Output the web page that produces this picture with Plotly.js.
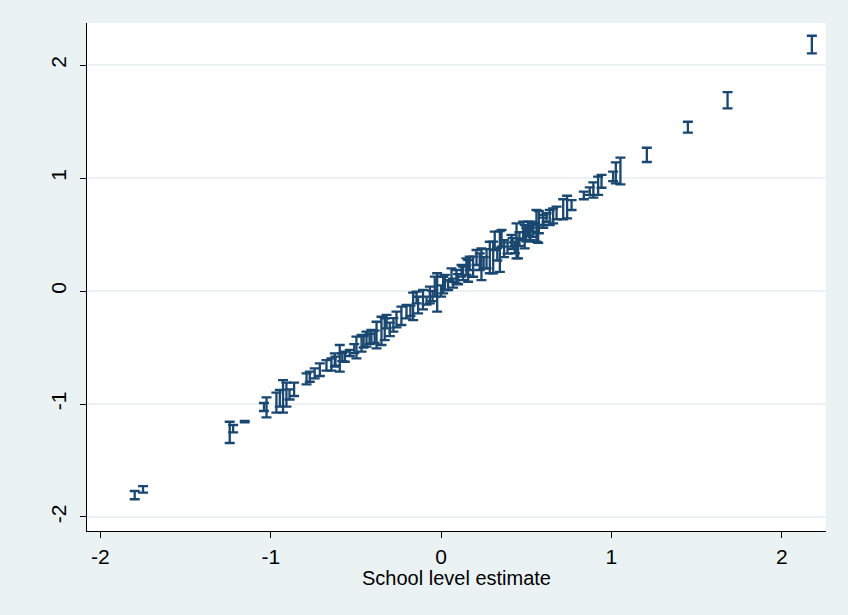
<!DOCTYPE html>
<html>
<head>
<meta charset="utf-8">
<script src="https://cdn.plot.ly/plotly-3.0.1.min.js"></script>
<style>html,body{margin:0;padding:0;background:#EAF2F3;}#chart{width:848px;height:615px;}</style>
</head>
<body>
<div id="chart"></div>
<script>
// School level estimate (x) and lower / upper bounds of the interval (y)
const schoolEstimate = [
  -1.799, -1.750, -1.241, -1.221, -1.153, -1.040, -1.025, -0.967, -0.947, -0.928,
  -0.908, -0.890, -0.863, -0.790, -0.771, -0.742, -0.712, -0.673, -0.644, -0.624,
  -0.620, -0.595, -0.580, -0.565, -0.536, -0.510, -0.497, -0.467, -0.455, -0.438,
  -0.420, -0.409, -0.390, -0.379, -0.350, -0.331, -0.320, -0.301, -0.280, -0.262,
  -0.233, -0.203, -0.180, -0.164, -0.144, -0.135, -0.106, -0.085, -0.066, -0.050,
  -0.037, -0.023, 0.000, 0.012, 0.022, 0.041, 0.061, 0.070, 0.090, 0.100,
  0.120, 0.129, 0.149, 0.159, 0.168, 0.188, 0.208, 0.227, 0.237, 0.250,
  0.267, 0.286, 0.306, 0.315, 0.330, 0.345, 0.355, 0.370, 0.390, 0.413,
  0.420, 0.433, 0.443, 0.452, 0.460, 0.482, 0.491, 0.500, 0.511, 0.520,
  0.525, 0.531, 0.540, 0.560, 0.570, 0.574, 0.599, 0.600, 0.619, 0.638,
  0.658, 0.678, 0.717, 0.740, 0.766, 0.838, 0.873, 0.894, 0.922, 0.942,
  1.010, 1.026, 1.053, 1.208, 1.449, 1.682, 2.177
];
const lowerBound = [
  -1.843, -1.785, -1.345, -1.251, -1.163, -1.062, -1.118, -1.076, -1.024, -1.077,
  -1.023, -0.960, -0.929, -0.826, -0.803, -0.773, -0.752, -0.705, -0.705, -0.670,
  -0.660, -0.714, -0.620, -0.626, -0.575, -0.550, -0.596, -0.537, -0.500, -0.493,
  -0.470, -0.463, -0.460, -0.507, -0.478, -0.434, -0.330, -0.400, -0.360, -0.322,
  -0.301, -0.242, -0.220, -0.257, -0.109, -0.198, -0.162, -0.120, -0.109, -0.090,
  -0.050, -0.183, -0.050, -0.021, 0.009, 0.009, 0.082, 0.030, 0.068, 0.060,
  0.127, 0.097, 0.142, 0.082, 0.186, 0.126, 0.230, 0.186, 0.097, 0.200,
  0.200, 0.157, 0.156, 0.363, 0.270, 0.170, 0.392, 0.300, 0.330, 0.392,
  0.370, 0.334, 0.289, 0.289, 0.400, 0.451, 0.378, 0.440, 0.487, 0.440,
  0.451, 0.525, 0.480, 0.436, 0.427, 0.511, 0.584, 0.560, 0.613, 0.584,
  0.599, 0.635, 0.635, 0.643, 0.717, 0.812, 0.850, 0.826, 0.850, 0.914,
  0.973, 0.953, 0.944, 1.142, 1.401, 1.617, 2.104
];
const upperBound = [
  -1.770, -1.726, -1.157, -1.186, -1.150, -0.991, -0.941, -0.900, -0.876, -0.788,
  -0.811, -0.870, -0.811, -0.729, -0.714, -0.684, -0.640, -0.611, -0.596, -0.552,
  -0.580, -0.478, -0.550, -0.537, -0.522, -0.470, -0.404, -0.389, -0.400, -0.360,
  -0.380, -0.345, -0.350, -0.272, -0.228, -0.242, -0.212, -0.280, -0.240, -0.183,
  -0.139, -0.124, -0.130, -0.015, -0.006, -0.051, 0.009, -0.050, 0.038, 0.000,
  0.127, 0.157, 0.050, 0.126, 0.142, 0.097, 0.201, 0.110, 0.186, 0.150,
  0.230, 0.215, 0.289, 0.274, 0.304, 0.304, 0.363, 0.333, 0.378, 0.300,
  0.370, 0.436, 0.437, 0.525, 0.380, 0.530, 0.540, 0.450, 0.430, 0.496,
  0.470, 0.436, 0.599, 0.466, 0.520, 0.613, 0.584, 0.560, 0.613, 0.580,
  0.558, 0.613, 0.600, 0.717, 0.584, 0.708, 0.673, 0.650, 0.688, 0.717,
  0.732, 0.746, 0.812, 0.843, 0.805, 0.879, 0.918, 0.962, 1.012, 1.027,
  1.056, 1.139, 1.181, 1.268, 1.498, 1.761, 2.259
];
const xTicks = [-2, -1, 0, 1, 2];
const yTicks = [-2, -1, 0, 1, 2];

const intervalLength = upperBound.map((u, i) => u - lowerBound[i]);

const trace = {
  type: 'scatter',
  mode: 'markers',
  x: schoolEstimate,
  y: lowerBound,
  marker: {size: 1, color: 'rgba(0,0,0,0)'},
  error_y: {
    type: 'data',
    symmetric: false,
    array: intervalLength,
    arrayminus: intervalLength.map(() => 0),
    color: '#1a476f',
    thickness: 2.3,
    width: 5
  },
  hoverinfo: 'skip',
  showlegend: false
};

const fontFam = '"Liberation Sans", Arial, sans-serif';
const layout = {
  width: 848,
  height: 615,
  paper_bgcolor: '#EAF2F3',
  plot_bgcolor: '#FFFFFF',
  margin: {l: 87, r: 22, t: 23, b: 84},
  font: {family: fontFam, size: 20, color: '#000'},
  showlegend: false,
  xaxis: {
    range: [-2.079, 2.26],
    tickvals: xTicks,
    ticktext: xTicks.map(String),
    ticks: 'outside',
    ticklen: 6,
    tickwidth: 1,
    tickcolor: '#000',
    showline: true,
    linecolor: '#000',
    linewidth: 1.3,
    showgrid: false,
    zeroline: false,
    tickfont: {family: fontFam, size: 21, color: '#000'},
    title: {text: 'School level estimate', font: {family: fontFam, size: 20, color: '#000'}, standoff: 4},
    automargin: false
  },
  yaxis: {
    range: [-2.124, 2.372],
    tickvals: yTicks,
    ticktext: yTicks.map(String),
    tickangle: -90,
    ticklabelstandoff: 5,
    ticks: 'outside',
    ticklen: 6,
    tickwidth: 1,
    tickcolor: '#000',
    showline: true,
    linecolor: '#000',
    linewidth: 1.3,
    showgrid: true,
    gridcolor: '#EAF2F3',
    gridwidth: 1.6,
    zeroline: false,
    tickfont: {family: fontFam, size: 21, color: '#000'},
    automargin: false
  }
};

Plotly.newPlot('chart', [trace], layout, {displayModeBar: false, staticPlot: true});
</script>
</body>
</html>
